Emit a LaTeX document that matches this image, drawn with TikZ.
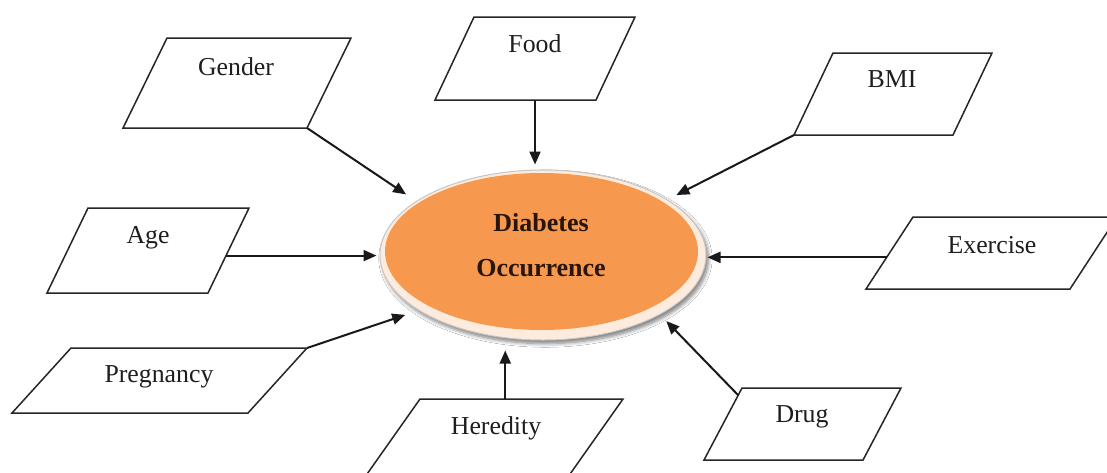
\documentclass[tikz,border=0pt]{standalone}
\usepackage{fontspec}
\setmainfont{Liberation Serif}
\usetikzlibrary{arrows.meta,shapes.geometric,shadows.blur,calc}
\definecolor{coreorange}{RGB}{246,152,78}
\definecolor{ringpeach}{RGB}{253,236,222}
\definecolor{inktext}{RGB}{30,30,30}
\definecolor{coreink}{RGB}{40,22,12}

% slanted input box: name, x of bottom-left, y of bottom, edge length, height, slant
\newcommand\databox[6]{%
  \draw[databox] (#2,#3) coordinate (#1-bl) -- ++(#4,0) coordinate (#1-br)
    -- ++(#6,-#5) coordinate (#1-tr) -- ++(-#4,0) coordinate (#1-tl) -- cycle;}

\begin{document}
\begin{tikzpicture}[x=0.5pt,y=-0.5pt,
  databox/.style={draw=black!85,line width=0.75pt,fill=white,line join=miter},
  tag/.style={text=inktext,font=\fontsize{12.9}{15}\selectfont,inner sep=0pt},
  link/.style={draw=black!90,line width=1pt,-{Triangle[length=6.5pt,width=5.5pt]}},
]
\clip (0,0) rectangle (1107,472);
\fill[white] (0,0) rectangle (1107,472);

% central factor
\node[ellipse, minimum width=163pt, minimum height=85pt, inner sep=0pt,
      fill=ringpeach, draw=gray!45, line width=0.5pt,
      blur shadow={shadow xshift=1.2pt,shadow yshift=-1.8pt,shadow blur steps=6,shadow opacity=50}]
  (core) at (543,255) {};
\node[ellipse, minimum width=156.5pt, minimum height=78.5pt, inner sep=0pt, fill=coreorange]
  (core-fill) at (541.5,251.5) {};
\node[align=center, text=coreink, inner sep=0pt,
      font=\bfseries\fontsize{13}{22.5}\selectfont] (core-text) at (541,245.5) {Diabetes\\Occurrence};

% input boxes
\databox{gender}{123}{128}{184}{90}{44}
\databox{food}{435}{100}{161}{83}{39}
\databox{bmi}{794}{135}{159}{82}{39}
\databox{age}{47}{293}{161}{85}{41}
\databox{ex}{866}{289}{204}{72}{47}
\databox{preg}{12}{413}{236}{65}{59}
\databox{her}{360}{484}{203}{85}{60}
\databox{drug}{704}{460}{159}{72}{38}

\node[tag] (gender) at (236,67) {Gender};
\node[tag] (food) at (535,44) {Food};
\node[tag] (bmi) at (892,79) {BMI};
\node[tag] (age) at (148,238) {Age};
\node[tag] (exercise) at (992,245) {Exercise};
\node[tag] (pregnancy) at (159,377) {Pregnancy};
\node[tag] (heredity) at (496,428) {Heredity};
\node[tag] (drug) at (802,417) {Drug};

% connectors into the central factor
\coordinate (food-out) at (food |- food-bl);
\coordinate (age-out) at ($(age-br)!0.44!(age-tr)$);
\coordinate (ex-out) at ($(ex-bl)!0.44!(ex-tl)$);
\coordinate (her-out) at ($(her-tl)!0.42!(her-tr)$);
\coordinate (drug-out) at ($(drug-tl)!0.1!(drug-bl)$);

\draw[link, shorten >=6pt] (gender-br) -- (core.157);
\draw[link, shorten >=2.5pt] (food-out) -- (food-out |- core.north);
\draw[link, shorten >=5pt] (bmi-bl) -- (core.24);
\draw[link, shorten >=1.5pt] (age-out) -- (age-out -| core.west);
\draw[link, shorten >=0.5pt] (ex-out) -- (ex-out -| core.east);
\draw[link, shorten >=7pt] (preg-tr) -- (core.204);
\draw[link, shorten >=5pt] (her-out) -- (her-out |- core.south);
\draw[link, shorten >=4.5pt] (drug-out) -- (core.333);
\end{tikzpicture}
\end{document}
